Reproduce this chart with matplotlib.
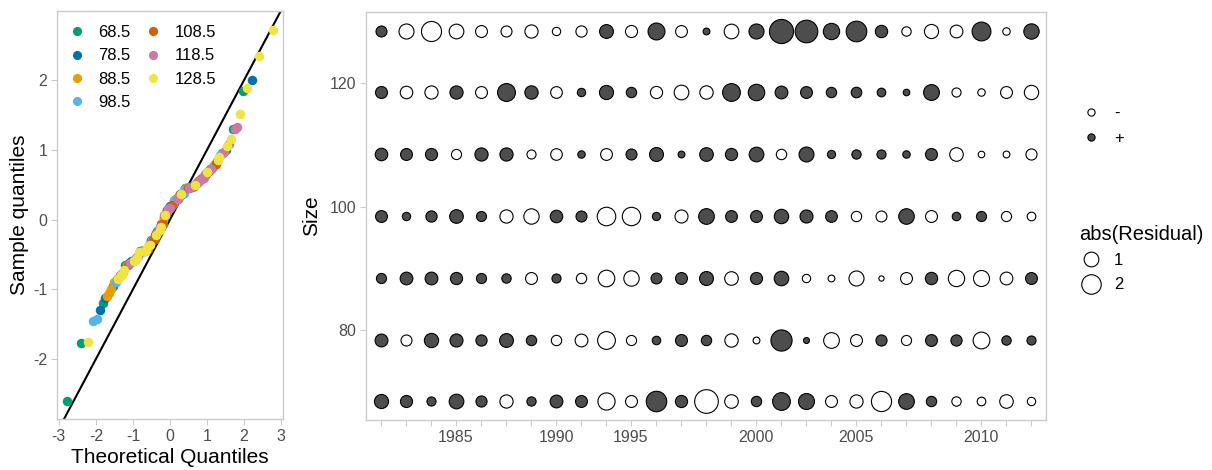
import numpy as np
import matplotlib
matplotlib.use('Agg')
import matplotlib.pyplot as plt
from matplotlib.lines import Line2D
from statistics import NormalDist

plt.rcParams['font.family'] = ['Liberation Sans', 'DejaVu Sans']
plt.rcParams['axes.unicode_minus'] = False

size_classes = [68.5, 78.5, 88.5, 98.5, 108.5, 118.5, 128.5]
years = [1982, 1983, 1984, 1985, 1986, 1987, 1989, 1990, 1991, 1992, 1995, 1996, 1997,
         1998, 1999, 2000, 2001, 2002, 2003, 2005, 2006, 2007, 2008, 2009, 2010, 2011, 2012]
year_labels = [1985, 1990, 1995, 2000, 2005, 2010]

# residuals per size class, one value per year
resid_685 = [0.72, 0.47, 0.2, 0.8, 0.37, -0.6, 0.21, 0.55, 0.45, -1.2, -0.45, 1.85, 0.48, -2.6,
             -0.65, 0.3, 1.3, 1.0, -0.45, -0.6, -1.77, 0.95, 0.3, -0.22, -0.17, -0.65, -0.15]
resid_785 = [0.56, -0.36, 0.74, 0.58, 0.38, 0.68, 0.3, -0.3, -0.55, -1.3, -0.28, 0.16, 0.46, 0.3,
             -0.62, -0.07, 2.0, 0.04, -0.95, -0.45, 0.37, -0.28, 0.45, 0.38, -1.13, 0.22, 0.2]
resid_885 = [0.28, 0.54, 0.55, 0.48, 0.28, 0.22, -0.45, 0.2, -0.3, -1.1, -0.9, 0.35, 0.45, 0.7,
             -0.65, 0.47, 0.78, -0.15, -0.07, -0.85, -0.02, -0.45, 0.5, -1.05, -1.0, -0.55, 0.45]
resid_985 = [0.45, 0.15, 0.38, 0.66, 0.27, -0.6, -0.9, 0.52, 0.36, -1.45, -1.42, 0.14, -0.58, 0.95,
             0.44, 0.45, 0.76, 0.58, 0.43, -0.3, -0.35, 0.93, -0.45, 0.16, 0.28, -0.28, -0.17]
resid_1085 = [0.52, 0.45, 0.47, -0.28, 0.6, 0.6, -0.2, -0.42, 0.1, -0.44, 0.36, 0.7, 0.07, 0.66,
              0.48, 0.8, -0.3, 0.84, 0.14, 0.21, 0.2, 0.1, 0.46, -0.65, -0.06, -0.07, -0.37]
resid_1185 = [0.46, -0.52, -0.6, 0.6, -0.45, 1.32, 0.62, -0.43, 0.15, 0.72, 0.3, -0.48, -0.8, -0.62,
              1.3, 1.08, 0.55, 0.45, 0.3, 0.32, 0.17, 0.06, 0.97, -0.2, -0.1, -0.45, -0.75]
resid_1285 = [0.36, -0.85, -1.75, -0.8, -0.45, -0.36, -0.6, -0.15, -0.38, 0.68, -0.47, 1.15, -0.44, 0.07,
              -0.8, 0.85, 2.72, 2.34, 1.05, 1.88, 0.5, -0.22, -0.72, -0.55, 1.51, -0.1, 0.9]

resid = np.array([resid_685, resid_785, resid_885, resid_985, resid_1085, resid_1185, resid_1285])

class_colors = ['#009E73', '#0072B2', '#E69F00', '#56B4E9', '#D55E00', '#CC79A7', '#F0E442']

W, H = 1212, 470
fig = plt.figure(figsize=(W / 100, H / 100), dpi=100)
ax1 = fig.add_axes([57 / W, 1 - 419 / H, (283 - 57) / W, (419 - 11) / H])
ax2 = fig.add_axes([366 / W, 1 - 420 / H, (1046 - 366) / W, (420 - 12) / H])

border = '#CCCCCC'
tick_col = '#4D4D4D'
for ax in (ax1, ax2):
    for sp in ax.spines.values():
        sp.set_color(border)
        sp.set_linewidth(1.0)
    ax.tick_params(colors=border, labelcolor=tick_col, labelsize=11.5, length=4, width=0.8, pad=3)


def px_to_s(d):
    # marker diameter in pixels -> scatter area in points^2
    return (d * 0.72) ** 2


# --- QQ plot ---
n = resid.size
flat = resid.flatten()
grp = np.repeat(np.arange(len(size_classes)), resid.shape[1])
order = np.argsort(flat, kind='stable')
theo = np.empty(n)
theo[order] = [NormalDist().inv_cdf((i + 0.5) / n) for i in range(n)]

for g in range(len(size_classes)):
    m = grp == g
    ax1.scatter(theo[m], flat[m], s=px_to_s(9.5), color=class_colors[g], linewidths=0, zorder=3)
ax1.axline((0, 0), slope=1, color='black', lw=1.5, zorder=2)

ax1.set_xlim(-3.05, 3.05)
ax1.set_ylim(-2.86, 2.99)
ax1.set_xticks([-3, -2, -1, 0, 1, 2, 3])
ax1.set_yticks([-2, -1, 0, 1, 2])
ax1.set_xlabel('Theoretical Quantiles', fontsize=15, labelpad=3)
ax1.set_ylabel('Sample quantiles', fontsize=15, labelpad=3)

handles = [Line2D([0], [0], marker='o', ls='none', markersize=6.6, markeredgewidth=0,
                  color=c, label=str(s)) for s, c in zip(size_classes, class_colors)]
ax1.legend(handles=handles, ncol=2, loc='upper left', bbox_to_anchor=(-0.02, 1.0), frameon=False,
           fontsize=12, labelspacing=0.5, handlelength=1.2, handletextpad=0.7,
           columnspacing=0.75, borderaxespad=0.45)

# --- bubble plot ---
for i, s in enumerate(size_classes):
    for j in range(len(years)):
        r = resid[i, j]
        d = 3.5 + 12.5 * np.sqrt(abs(r))
        ax2.scatter(j, s, s=px_to_s(d), facecolor='#4D4D4D' if r > 0 else 'white',
                    edgecolor='black', linewidths=0.8, zorder=3)

ax2.set_xlim(-0.6, len(years) - 0.4)
ax2.set_ylim(65.5, 131.5)
ax2.set_xticks(range(len(years)))
ax2.set_xticklabels([str(y) if y in year_labels else '' for y in years])
ax2.set_yticks([80, 100, 120])
ax2.set_ylabel('Size', fontsize=15, labelpad=6)

# --- right-hand legends ---
sign_handles = [
    Line2D([0], [0], marker='o', ls='none', markersize=5.2, markerfacecolor='white',
           markeredgecolor='black', markeredgewidth=0.8, label='-'),
    Line2D([0], [0], marker='o', ls='none', markersize=5.2, markerfacecolor='#4D4D4D',
           markeredgecolor='black', markeredgewidth=0.8, label='+'),
]
leg1 = fig.legend(handles=sign_handles, loc='upper left', bbox_to_anchor=(1064 / W, 1 - 91 / H),
                  frameon=False, fontsize=12, labelspacing=0.62, handlelength=1.4,
                  handletextpad=0.7)

size_handles = [
    Line2D([0], [0], marker='o', ls='none', markersize=(3.5 + 12.5 * np.sqrt(v)) * 0.72 * 0.92,
           markerfacecolor='white', markeredgecolor='black', markeredgewidth=0.8, label=str(v))
    for v in [1, 2]
]
leg2 = fig.legend(handles=size_handles, loc='upper left', bbox_to_anchor=(1064 / W, 1 - 210 / H),
                  frameon=False, fontsize=12, labelspacing=0.55, handlelength=1.4,
                  handletextpad=0.7, title='abs(Residual)', title_fontsize=14.5)
leg2._legend_box.align = 'left'

fig.savefig('out.png', dpi=100)
